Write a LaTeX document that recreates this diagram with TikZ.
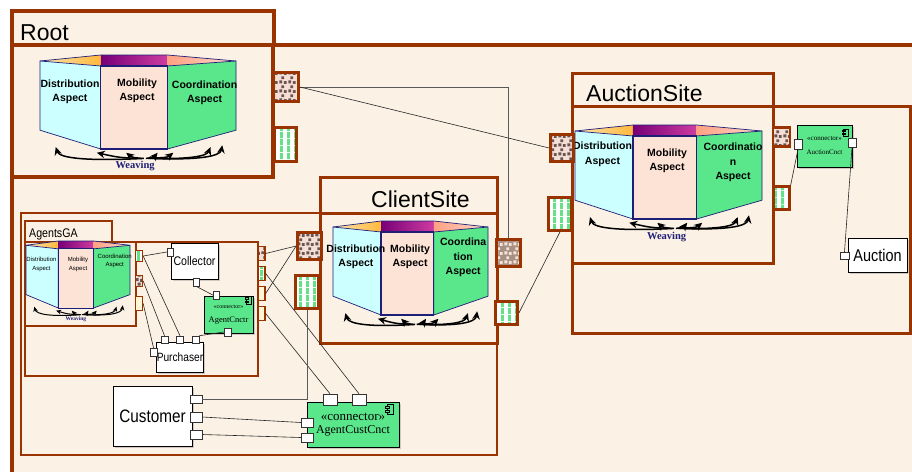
\documentclass[tikz,border=0pt]{standalone}
\usepackage{fontspec}
\setmainfont{Liberation Serif}
\setsansfont{Liberation Sans}
\newfontfamily\narrowsf[FakeStretch=0.85]{Liberation Sans}
\usetikzlibrary{arrows.meta,patterns,shadows}

\definecolor{framebrown}{RGB}{153,51,0}
\definecolor{paper}{RGB}{251,241,228}
\definecolor{distcyan}{RGB}{204,255,255}
\definecolor{mobpeach}{RGB}{253,226,214}
\definecolor{coordgreen}{RGB}{90,230,138}
\definecolor{edgenavy}{RGB}{30,30,120}
\definecolor{lidpurple}{RGB}{120,0,120}
\definecolor{lidmagenta}{RGB}{205,60,160}
\definecolor{lidorange}{RGB}{255,185,60}
\definecolor{lidsalmon}{RGB}{255,160,130}
\definecolor{dotpink}{RGB}{245,222,214}
\definecolor{dotdark}{RGB}{105,85,80}
\definecolor{dotbrown}{RGB}{168,145,130}
\definecolor{dotlight}{RGB}{245,228,220}
\definecolor{stripegreen}{RGB}{100,225,135}
\definecolor{plaincream}{RGB}{255,246,214}

% little squares and green stripes for the port fills
\pgfdeclarepatternformonly{dotsquares}{\pgfqpoint{0pt}{0pt}}{\pgfqpoint{9pt}{9pt}}{\pgfqpoint{9pt}{9pt}}{%
	\pgfpathrectangle{\pgfqpoint{0.5pt}{0.8pt}}{\pgfqpoint{3pt}{3pt}}%
	\pgfpathrectangle{\pgfqpoint{5.2pt}{0.2pt}}{\pgfqpoint{3pt}{3pt}}%
	\pgfpathrectangle{\pgfqpoint{2.6pt}{5.3pt}}{\pgfqpoint{3pt}{3pt}}%
	\pgfusepath{fill}}
\pgfdeclarepatternformonly{greenstripes}{\pgfqpoint{0pt}{0pt}}{\pgfqpoint{6.5pt}{6.5pt}}{\pgfqpoint{6.5pt}{6.5pt}}{%
	\pgfpathrectangle{\pgfqpoint{0pt}{0pt}}{\pgfqpoint{3pt}{6.5pt}}%
	\pgfusepath{fill}}

\tikzset{cnctricon/.pic={
	\draw[line width=0.5pt, fill=coordgreen] (-2,-5) rectangle (4,5);
	\draw[line width=0.5pt, fill=coordgreen] (-4,-3.2) rectangle (0,-1.2);
	\draw[line width=0.5pt, fill=coordgreen] (-4,1.2) rectangle (0,3.2);
}}

% three aspect panels with the weaving arrows, in a unit box
\newcommand{\aspectprism}{%
	\shade[left color=lidorange!40, right color=lidorange] (0,0.064) -- (0.31,0) -- (0.31,0.117) -- cycle;
	\shade[left color=lidpurple, right color=lidmagenta] (0.31,0) rectangle (0.65,0.117);
	\shade[left color=lidsalmon, right color=lidsalmon!40] (0.65,0) -- (1,0.064) -- (0.65,0.117) -- cycle;
	\draw[prismedge] (0,0.064) -- (0.31,0) -- (0.65,0) -- (1,0.064);
	\filldraw[prismedge, fill=distcyan] (0,0.064) -- (0.31,0.117) -- (0.31,1) -- (0,0.8) -- cycle;
	\filldraw[prismedge, fill=coordgreen] (0.65,0.117) -- (1,0.064) -- (1,0.8) -- (0.65,1) -- cycle;
	\filldraw[mobedge, fill=mobpeach] (0.31,0.117) rectangle (0.65,1);
	\draw[weave] (0.53,1.1) .. controls (0.25,1.13) and (0.1,1.1) .. (0.08,0.98);
	\draw[weave] (0.5,1.1) .. controls (0.4,1.09) .. (0.29,1.04);
	\draw[weave] (0.52,1.1) .. controls (0.47,1.09) .. (0.44,1.04);
	\draw[weave] (0.54,1.1) .. controls (0.58,1.09) .. (0.6,1.04);
	\draw[weave] (0.55,1.1) .. controls (0.65,1.09) .. (0.68,1.04);
	\draw[weave] (0.56,1.1) .. controls (0.75,1.11) and (0.85,1.08) .. (0.87,0.98);
	\draw[weave] (0.57,1.1) .. controls (0.8,1.12) and (0.92,1.08) .. (0.93,0.96);
}

\begin{document}
\begin{tikzpicture}[x=1pt, y=-1pt,
	frame/.style={draw=framebrown, fill=paper},
	title/.style={font=\sffamily\fontsize{23}{23}\selectfont, inner sep=0pt, anchor=base west},
	prismedge/.style={draw=edgenavy, line width=0.7pt},
	mobedge/.style={draw=edgenavy, line width=1.3pt},
	weave/.style={line width=1.5pt, -{Stealth[length=8pt,width=7.5pt]}},
	aspecttext/.style={font=\sffamily\bfseries\fontsize{10.5}{14.5}\selectfont, align=center, inner sep=0pt},
	smallaspect/.style={font=\sffamily\fontsize{6}{8.5}\selectfont, align=center, inner sep=0pt},
	weavelabel/.style={font=\bfseries\fontsize{10.5}{10.5}\selectfont, text=edgenavy, inner sep=0pt},
	dotport/.style={draw=framebrown, line width=2.8pt, inner sep=0pt, pattern=dotsquares, pattern color=dotdark, preaction={fill=dotpink}},
	dotportinv/.style={dotport, pattern color=dotlight, preaction={fill=dotbrown}},
	stripeport/.style={draw=framebrown, line width=2.8pt, inner sep=0pt, pattern=greenstripes, pattern color=stripegreen, preaction={fill=white}},
	plainport/.style={draw=framebrown, line width=1.3pt, inner sep=0pt, fill=plaincream},
	cport/.style={draw=black!80, fill=white, line width=0.5pt, inner sep=0pt},
	comp/.style={draw=black, fill=white, line width=0.6pt, inner sep=0pt, drop shadow={shadow xshift=1.5pt, shadow yshift=-1.5pt, opacity=0.35}},
	cnctr/.style={comp, fill=coordgreen, align=center, font=\rmfamily},
	wire/.style={draw=black!85, line width=0.6pt}]

	\useasboundingbox (0,0) rectangle (912,471);
	\clip (0,0) rectangle (912,471);

	% Root
	\draw[frame, line width=4pt] (12,45) rectangle (940,490);
	\draw[frame, line width=4pt] (12,11) rectangle (274,45);
	\draw[frame, line width=4pt] (12,45) rectangle (273,177);
	\node[title] (rootTitle) at (20,40) {Root};

	% AuctionSite
	\draw[frame, line width=3pt] (572,106) rectangle (910,333);
	\draw[frame, line width=3pt] (572,106) rectangle (773,263);
	\draw[frame, line width=3pt] (572,73) rectangle (773,106);
	\node[title] (auctionTitle) at (586,101) {AuctionSite};

	% ClientSite
	\draw[frame, line width=2.5pt] (21,213) rectangle (497,455);
	\draw[frame, line width=3pt] (320,177) rectangle (497,213);
	\draw[frame, line width=3pt] (320,213) rectangle (497,343);
	\node[title] (clientTitle) at (371,207) {ClientSite};

	% AgentsGA
	\draw[frame, line width=1.3pt] (25,242) rectangle (258,376);
	\draw[frame, line width=1.3pt] (25,221) rectangle (112,242);
	\draw[frame, line width=1.3pt] (25,242) rectangle (136,326);
	\node[anchor=base west, font=\narrowsf\fontsize{12.5}{12.5}\selectfont, inner sep=0pt] (agentsTitle) at (29,237) {AgentsGA};

	\begin{scope}[shift={(40,55)}, xscale=196, yscale=94]
		\aspectprism
		\node[aspecttext] (rootDist) at (0.153,0.39) {Distribution\\Aspect};
		\node[aspecttext] (rootMob) at (0.495,0.38) {Mobility\\Aspect};
		\node[aspecttext] (rootCoord) at (0.84,0.40) {Coordination\\Aspect};
		\node[weavelabel] (rootWeave) at (0.485,1.18) {Weaving};
	\end{scope}

	\begin{scope}[shift={(575,125)}, xscale=187, yscale=94]
		\aspectprism
		\node[aspecttext] (auctionDist) at (0.147,0.31) {Distribution\\Aspect};
		\node[aspecttext] (auctionMob) at (0.492,0.38) {Mobility\\Aspect};
		\node[aspecttext] (auctionCoord) at (0.845,0.40) {Coordinatio\\n\\Aspect};
		\node[weavelabel] (auctionWeave) at (0.49,1.19) {Weaving};
	\end{scope}

	\begin{scope}[shift={(333,221)}, xscale=155, yscale=94]
		\aspectprism
		\node[aspecttext] (clientDist) at (0.148,0.38) {Distribution\\Aspect};
		\node[aspecttext] (clientMob) at (0.497,0.38) {Mobility\\Aspect};
		\node[aspecttext] (clientCoord) at (0.84,0.39) {Coordina\\tion\\Aspect};
	\end{scope}

	\begin{scope}[shift={(26,241)}, xscale=104, yscale=67,
		weave/.style={line width=1pt, -{Stealth[length=5pt,width=4.5pt]}},
		mobedge/.style={draw=edgenavy, line width=1pt}]
		\aspectprism
		\node[smallaspect] (agentsDist) at (0.149,0.35) {Distribution\\Aspect};
		\node[smallaspect] (agentsMob) at (0.5,0.35) {Mobility\\Aspect};
		\node[smallaspect] (agentsCoord) at (0.853,0.30) {Coordination\\Aspect};
		\node[weavelabel, font=\bfseries\fontsize{5.5}{5.5}\selectfont] (agentsWeave) at (0.48,1.16) {Weaving};
	\end{scope}

	% ports on the site boxes
	\node[dotport, minimum width=25, minimum height=29] (rootDot) at (286,87) {};
	\node[stripeport, minimum width=22, minimum height=34] (rootStripe) at (285.5,144.5) {};
	\node[dotport, minimum width=23, minimum height=27] (auctionDot) at (562,148) {};
	\node[stripeport, minimum width=23, minimum height=33] (auctionStripe) at (560,214) {};
	\node[dotport, line width=2.2pt, minimum width=17, minimum height=19] (auctionDotR) at (781.5,137) {};
	\node[stripeport, line width=2.2pt, minimum width=16, minimum height=23] (auctionStripeR) at (781.5,198) {};
	\node[dotportinv, minimum width=24, minimum height=27] (clientDotR) at (508.5,253) {};
	\node[stripeport, minimum width=22, minimum height=23] (clientStripeR) at (506.5,313) {};
	\node[dotport, minimum width=24, minimum height=27] (clientDotL) at (309.5,246) {};
	\node[stripeport, minimum width=23, minimum height=33] (clientStripeL) at (307,292) {};

	% ports of AgentsGA
	\node[stripeport, line width=1.3pt, minimum width=7, minimum height=11] (gaStripeW) at (139,256) {};
	\node[dotport, line width=1.3pt, minimum width=7, minimum height=11] (gaDotW) at (139,281) {};
	\node[plainport, minimum width=7, minimum height=14] (gaPlainW) at (139,303.5) {};
	\node[dotport, line width=1.3pt, minimum width=7, minimum height=14] (gaDotE) at (261.5,253.5) {};
	\node[stripeport, line width=1.3pt, minimum width=7, minimum height=14] (gaStripeE) at (261.5,273.5) {};
	\node[plainport, minimum width=7, minimum height=14] (gaPlainE1) at (261.5,293.5) {};
	\node[plainport, minimum width=7, minimum height=14] (gaPlainE2) at (261.5,313.5) {};

	% components
	\node[comp, minimum width=47, minimum height=36, font=\narrowsf\fontsize{12.5}{12.5}\selectfont] (collector) at (194.5,261) {Collector};
	\node[cport, minimum width=6, minimum height=8] (collectorW) at (170,252) {};
	\node[cport, minimum width=6, minimum height=8] (collectorS) at (196,282) {};

	\node[cnctr, minimum width=49, minimum height=37] (agentCnctr) at (228.5,314.5) {\fontsize{6}{7}\selectfont «connector»\\[2pt]\fontsize{8.5}{9}\selectfont AgentCnctr};
	\pic[scale=0.75] (agentCnctrIcon) at (248,300) {cnctricon};
	\node[cport, minimum width=6, minimum height=8] (agentCnctrN) at (216,295) {};
	\node[cport, minimum width=7, minimum height=8] (agentCnctrS) at (227.5,332) {};

	\node[comp, minimum width=46, minimum height=30, font=\narrowsf\fontsize{12}{12}\selectfont] (purchaser) at (180,357) {Purchaser};
	\node[cport, minimum width=7, minimum height=7] (purchaserN1) at (164.5,339.5) {};
	\node[cport, minimum width=7, minimum height=7] (purchaserN2) at (180,339.5) {};
	\node[cport, minimum width=7, minimum height=7] (purchaserN3) at (195.5,339.5) {};
	\node[cport, minimum width=7, minimum height=8] (purchaserW) at (153.5,352) {};

	\node[comp, minimum width=79, minimum height=60, font=\narrowsf\fontsize{18}{18}\selectfont] (customer) at (152.5,416) {Customer};
	\node[cport, minimum width=12, minimum height=8] (custP1) at (196,399) {};
	\node[cport, minimum width=12, minimum height=10] (custP2) at (196,417) {};
	\node[cport, minimum width=12, minimum height=9] (custP3) at (196,434.5) {};

	\node[cnctr, minimum width=92, minimum height=45] (agentCust) at (353,424.5) {\fontsize{13}{13}\selectfont «connector»\\[1pt]\fontsize{12}{12}\selectfont AgentCustCnct};
	\pic (agentCustIcon) at (389,409.5) {cnctricon};
	\node[cport, minimum width=14, minimum height=11] (agentCustN1) at (330,399.5) {};
	\node[cport, minimum width=14, minimum height=11] (agentCustN2) at (359,399.5) {};
	\node[cport, minimum width=12, minimum height=9] (agentCustW1) at (307,422.5) {};
	\node[cport, minimum width=12, minimum height=9] (agentCustW2) at (307,437.5) {};

	\node[cnctr, minimum width=55, minimum height=42] (auctionCnct) at (824.5,146) {\fontsize{7}{8}\selectfont «connector»\\[2pt]\fontsize{7}{8}\selectfont AuctionCnct};
	\pic[scale=0.7] (auctionCnctIcon) at (845,132.5) {cnctricon};
	\node[cport, minimum width=8, minimum height=10] (auctionCnctW) at (798,144) {};
	\node[cport, minimum width=8, minimum height=9] (auctionCnctE) at (852,142.5) {};

	\node[comp, minimum width=59, minimum height=34, font=\narrowsf\fontsize{17}{17}\selectfont] (auction) at (877.5,255) {Auction};
	\node[cport, minimum width=9, minimum height=7] (auctionP) at (844.5,255.5) {};

	% connectors
	\draw[wire, draw=gray!70!black] (rootDot.east) -| (clientDotR.north);
	\draw[wire] (rootDot.east) -- (auctionDot.west);
	\draw[wire] (clientStripeR.east) -- (auctionStripe.south);
	\draw[wire] (auctionStripeR.north east) -- (auctionCnctW.south);
	\draw[wire] (auctionCnctE.south) -- (auctionP.north);
	\draw[wire] (gaStripeW.east) -- (collectorW.west);
	\draw[wire] (gaStripeW.east) -- (purchaserN2.north);
	\draw[wire] (gaDotW.east) -- (purchaserN1.north);
	\draw[wire] (gaPlainW.east) -- (purchaserW.north);
	\draw[wire] (collectorS.south) -- (agentCnctrN.west);
	\draw[wire] (purchaserN3.north east) -- (agentCnctrS.west);
	\draw[wire] (gaDotE.east) -- (clientDotL.west);
	\draw[wire] (gaPlainE1.east) -- (clientDotL.west);
	\draw[wire] (gaStripeE.east) -- (agentCustN2.north);
	\draw[wire] (gaPlainE2.east) -- (agentCustN1.north);
	\draw[wire, draw=gray!70!black] (clientStripeL.south) |- (custP1.east);
	\draw[wire] (custP2.east) -- (agentCustW1.west);
	\draw[wire] (custP3.east) -- (agentCustW2.west);
\end{tikzpicture}
\end{document}
